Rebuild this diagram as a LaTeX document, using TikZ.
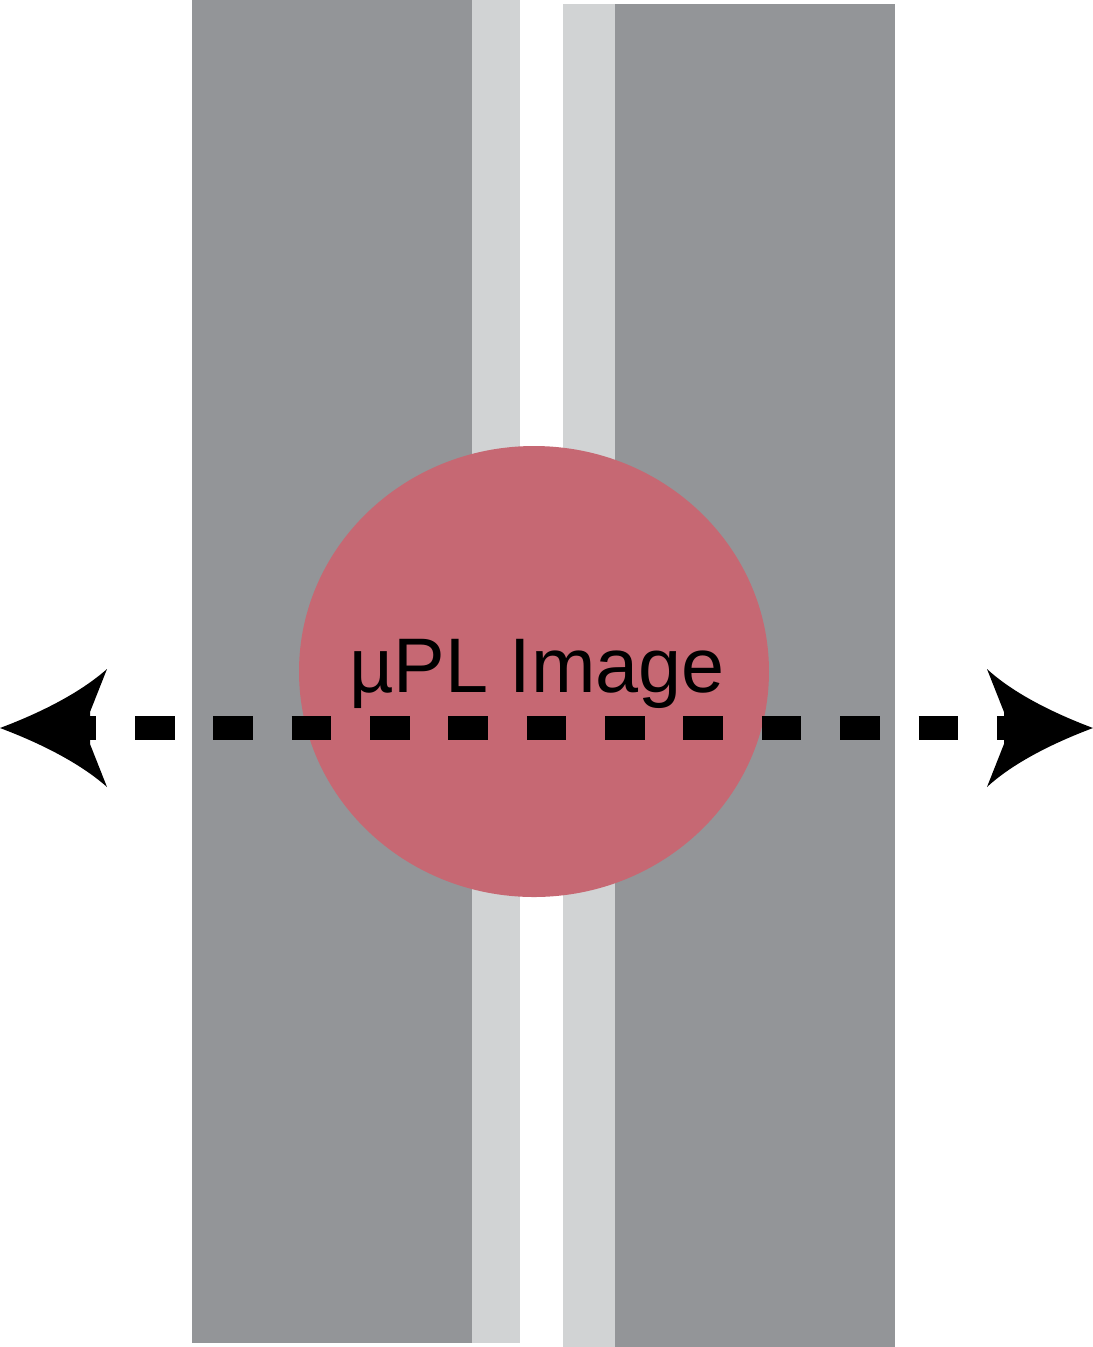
\documentclass[tikz,border=0pt]{standalone}
\usepackage{fontspec}
\setsansfont{Liberation Sans}
\usetikzlibrary{calc}
\definecolor{strookdonker}{HTML}{939598}
\definecolor{strooklicht}{HTML}{D1D3D4}
\definecolor{vlek}{HTML}{C66873}

\begin{document}
\begin{tikzpicture}[x=0.01cm, y=-0.01cm, font=\sffamily\fontsize{22}{26}\selectfont]
  \tikzset{
    dark/.style={fill=strookdonker},
    light/.style={fill=strooklicht},
    scan/.style={line width=0.24cm, dash pattern=on 0.395cm off 0.388cm},
    tip/.style={fill=black}
  }
  \useasboundingbox (0,0) rectangle (1093,1347);

  % Stroken links
  \fill[dark]  (192,0) rectangle (472,1343);
  \fill[light] (472,0) rectangle (520,1343);

  % Stroken rechts
  \fill[light] (563,4) rectangle (615,1347);
  \fill[dark]  (615,4) rectangle (895,1347);

  % Vlek met label
  \fill[vlek] (534,671.5) ellipse [x radius=235, y radius=225.5];
  \node[anchor=base, inner sep=0pt] (beeld) at (537,692) {µPL Image};

  % Scanlijn
  \coordinate (W) at (0,728);
  \coordinate (E) at (1093,728);
  \coordinate (scanL) at (56.7,728);
  \coordinate (scanR) at (1035.8,728);
  \draw[scan] (scanL) -- (scanR);

  % Pijlpunten
  \fill[tip, shift={(W)}] (0,0) .. controls (40,-15) and (80,-35) .. (107,-59)
    -- (90,-16) -- (90,16) -- (107,59)
    .. controls (80,35) and (40,15) .. cycle;
  \fill[tip, shift={(E)}, xscale=-1] (0,0) .. controls (40,-15) and (80,-35) .. (106,-59)
    -- (89,-16) -- (89,16) -- (106,59)
    .. controls (80,35) and (40,15) .. cycle;
\end{tikzpicture}
\end{document}
